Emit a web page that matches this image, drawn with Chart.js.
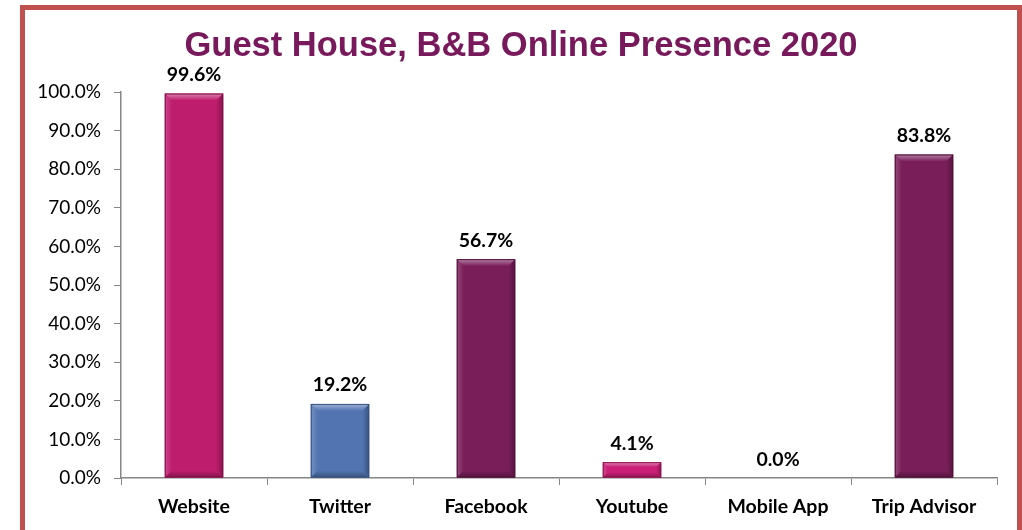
<!DOCTYPE html>
<html>
<head>
<meta charset="utf-8">
<script src="https://cdn.jsdelivr.net/npm/chart.js@4/dist/chart.umd.min.js"></script>
<style>
html,body{margin:0;padding:0;background:#fff;width:1022px;height:530px;overflow:hidden;}
#frame{position:absolute;left:20px;top:5px;width:1002px;height:600px;border:5px solid #C0504D;box-sizing:border-box;background:#fff;}
#c{position:absolute;left:0;top:0;}
</style>
</head>
<body>
<div id="frame"></div>
<canvas id="c" width="1022" height="530"></canvas>
<script>
const titleText = "Guest House, B&B Online Presence 2020";
const categories = ["Website", "Twitter", "Facebook", "Youtube", "Mobile App", "Trip Advisor"];
const values = [99.6, 19.2, 56.7, 4.1, 0.0, 83.8];
const barColors = ["#BE1D6E", "#5275B2", "#7A1E5A", "#C91F76", "#BE1D6E", "#7A1E5A"];
const barEdges = ["#7E1148", "#34507F", "#4E1139", "#85124C", "#7E1148", "#4E1139"];
const yTicks = [0, 10, 20, 30, 40, 50, 60, 70, 80, 90, 100];

function shade(hex, amt) {
  const n = parseInt(hex.slice(1), 16);
  let r = (n >> 16) & 255, g = (n >> 8) & 255, b = n & 255;
  const f = v => Math.max(0, Math.min(255, Math.round(amt >= 0 ? v + (255 - v) * amt : v * (1 + amt))));
  return `rgb(${f(r)},${f(g)},${f(b)})`;
}

const decorPlugin = {
  id: 'decor',
  afterDatasetsDraw(chart) {
    const ctx = chart.ctx;
    const meta = chart.getDatasetMeta(0);
    meta.data.forEach((bar, i) => {
      const v = values[i];
      const x0 = bar.x - bar.width / 2, x1 = bar.x + bar.width / 2;
      const top = bar.y, bottom = bar.base;
      const h = bottom - top;
      if (h > 2) {
        const base = barColors[i];
        ctx.save();
        const bv = Math.min(7, h / 3);
        let g = ctx.createLinearGradient(0, top, 0, top + bv);
        g.addColorStop(0, shade(base, 0.45));
        g.addColorStop(1, base);
        ctx.fillStyle = g;
        ctx.beginPath();
        ctx.moveTo(x0, top); ctx.lineTo(x1, top); ctx.lineTo(x1 - bv, top + bv); ctx.lineTo(x0 + bv, top + bv); ctx.closePath();
        ctx.fill();
        g = ctx.createLinearGradient(x0, 0, x0 + bv, 0);
        g.addColorStop(0, shade(base, 0.2));
        g.addColorStop(1, base);
        ctx.fillStyle = g;
        ctx.beginPath();
        ctx.moveTo(x0, top); ctx.lineTo(x0 + bv, top + bv); ctx.lineTo(x0 + bv, bottom - bv); ctx.lineTo(x0, bottom); ctx.closePath();
        ctx.fill();
        g = ctx.createLinearGradient(x1, 0, x1 - bv, 0);
        g.addColorStop(0, shade(base, -0.3));
        g.addColorStop(1, base);
        ctx.fillStyle = g;
        ctx.beginPath();
        ctx.moveTo(x1, top); ctx.lineTo(x1 - bv, top + bv); ctx.lineTo(x1 - bv, bottom - bv); ctx.lineTo(x1, bottom); ctx.closePath();
        ctx.fill();
        g = ctx.createLinearGradient(0, bottom, 0, bottom - bv);
        g.addColorStop(0, shade(base, -0.3));
        g.addColorStop(1, base);
        ctx.fillStyle = g;
        ctx.beginPath();
        ctx.moveTo(x0, bottom); ctx.lineTo(x1, bottom); ctx.lineTo(x1 - bv, bottom - bv); ctx.lineTo(x0 + bv, bottom - bv); ctx.closePath();
        ctx.fill();
        ctx.strokeStyle = barEdges[i];
        ctx.lineWidth = 1;
        ctx.strokeRect(x0 + 0.5, top + 0.5, bar.width - 1, h - 1);
        ctx.restore();
      }
      ctx.save();
      ctx.font = "bold 19.5px Lato, 'Open Sans', sans-serif";
      ctx.fillStyle = "#000";
      ctx.textAlign = "center";
      ctx.textBaseline = "bottom";
      ctx.fillText(v.toFixed(1) + "%", bar.x, top - 9);
      ctx.restore();
    });
  },
  afterDraw(chart) {
    const ctx = chart.ctx;
    ctx.save();
    ctx.font = "bold 34.5px 'Liberation Sans', Arial, sans-serif";
    ctx.fillStyle = "#77195A";
    ctx.textAlign = "center";
    ctx.textBaseline = "middle";
    ctx.fillText(titleText, 521, 46);
    ctx.restore();
  }
};

new Chart(document.getElementById('c'), {
  type: 'bar',
  data: {
    labels: categories,
    datasets: [{
      data: values,
      backgroundColor: barColors,
      borderWidth: 0,
      barPercentage: 0.8,
      categoryPercentage: 0.5
    }]
  },
  options: {
    responsive: false,
    animation: false,
    devicePixelRatio: 1,
    layout: { padding: { top: 92, right: 25, left: 0, bottom: 0 } },
    plugins: { legend: { display: false }, tooltip: { enabled: false }, title: { display: false } },
    scales: {
      x: {
        afterFit(s) { s.height = 52; },
        grid: { display: true, drawOnChartArea: false, drawTicks: true, tickLength: 7, color: "#868686", offset: true },
        border: { display: true, color: "#868686", width: 1.5 },
        ticks: { color: "#000", padding: 10, font: { family: "Lato, 'Open Sans', sans-serif", size: 19.5, weight: "bold" } }
      },
      y: {
        min: 0, max: 100,
        afterFit(s) { s.width = 121; },
        afterBuildTicks(s) { s.ticks = yTicks.map(v => ({ value: v })); },
        grid: { display: true, drawOnChartArea: false, drawTicks: true, tickLength: 7, color: "#868686" },
        border: { display: true, color: "#868686", width: 1.5 },
        ticks: {
          color: "#000", padding: 13,
          font: { family: "Lato, 'Open Sans', sans-serif", size: 19 },
          callback: v => Number(v).toFixed(1) + "%"
        }
      }
    }
  },
  plugins: [decorPlugin]
});
</script>
</body>
</html>
